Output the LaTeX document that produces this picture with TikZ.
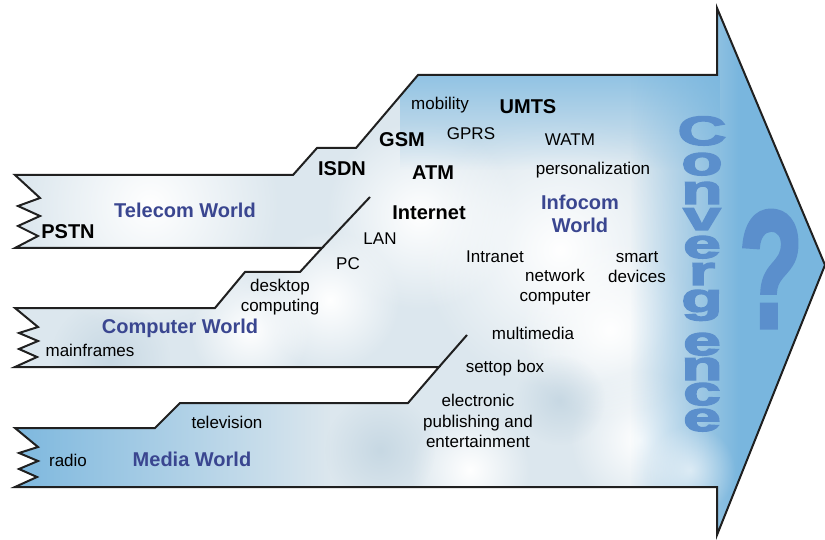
\documentclass[tikz,border=0pt]{standalone}
\usepackage{fontspec}
\usepackage{graphicx}
\setmainfont{Liberation Sans}
\newfontfamily\heavyfont[FakeBold=3]{Liberation Sans Bold}
\usetikzlibrary{fadings}
\definecolor{sky}{HTML}{79B6DE}
\definecolor{haze}{HTML}{DCE7EE}
\definecolor{mist}{HTML}{B9CEDC}
\definecolor{worldblue}{HTML}{3A4690}
\definecolor{convblue}{HTML}{5B8FCC}
\definecolor{edge}{HTML}{202020}

\tikzfading[name=fadeinright, left color=transparent!100, right color=transparent!0]
\tikzfading[name=fadeinleft, left color=transparent!0, right color=transparent!100]
\tikzfading[name=fadeindown, top color=transparent!0, bottom color=transparent!100]
\tikzfading[name=puff, inner color=transparent!0, outer color=transparent!100]

% outline of the three worlds running into one arrow
\newcommand*\worldhull{(15,175) -- (293,175) -- (317,148) -- (356,148) -- (418,75)
  -- (717,75) -- (717,8) -- (825,265) -- (717,535) -- (717,487)
  -- (15,487) -- (37,477) -- (19,469) -- (38,461) -- (19,453) -- (38,447) -- (15,428)
  -- (155,428) -- (180,403) -- (408,403) -- (439,367)
  -- (15,367) -- (37,357) -- (19,349) -- (38,341) -- (19,333) -- (38,327) -- (15,308)
  -- (215,308) -- (245,272) -- (300,272) -- (322,248)
  -- (15,248) -- (38,236) -- (18,226) -- (40,216) -- (18,206) -- (40,198) -- cycle}

\begin{document}
\begin{tikzpicture}[x=1pt, y=-1pt,
    term/.style={font=\fontsize{17}{20.5}\selectfont, align=center, inner sep=0pt},
    tech/.style={font=\fontsize{20}{23}\selectfont\bfseries, align=center, inner sep=0pt},
    world/.style={tech, text=worldblue},
    letter/.style={font=\heavyfont\fontsize{41}{41}\selectfont, text=convblue,
                   inner sep=0pt, anchor=base, text height=22pt, text depth=0pt},
    hull/.style={draw=edge, line width=2pt}]
    \useasboundingbox (0,0) rectangle (825,540);

    % Sky filling
    \begin{scope}
        \clip \worldhull;
        \fill[haze] (0,0) rectangle (825,540);
        \foreach \cx/\cy/\r in {150/205/130, 420/215/95, 560/250/140, 330/300/70,
                                250/330/60, 470/470/60, 640/440/70, 610/330/90}
            \fill[white, path fading=puff] (\cx,\cy) circle (\r);
        \foreach \cx/\cy/\r in {110/360/60, 380/450/55, 560/400/45}
            \fill[mist, opacity=0.6, path fading=puff] (\cx,\cy) circle (\r);
        \fill[sky!85, path fading=fadeindown] (400,70) rectangle (720,170);
        \fill[sky, path fading=fadeinright] (630,0) rectangle (740,540);
        \fill[sky] (740,0) rectangle (825,540);
        \fill[sky, path fading=fadeinleft] (0,400) rectangle (330,490);
        \fill[white, opacity=0.6, path fading=puff] (690,470) circle (45);
    \end{scope}

    % Outline and inner steps
    \draw[hull] \worldhull;
    \coordinate (lanend) at (370,197);
    \coordinate (mediaend) at (467,335);
    \draw[hull] (322,248) -- (lanend);
    \draw[hull] (439,367) -- (mediaend);

    % Telecom world
    \node[tech] (pstn) at (68,232) {PSTN};
    \node[world] (telecom) at (185,210) {Telecom World};
    \node[tech] (isdn) at (342,169) {ISDN};
    \node[tech] (gsm) at (402,140) {GSM};
    \node[tech] (atm) at (433,173) {ATM};
    \node[term] (mobility) at (440,105) {mobility};
    \node[tech] (umts) at (528,107) {UMTS};
    \node[term] (gprs) at (471,134) {GPRS};
    \node[term] (watm) at (570,140) {WATM};
    \node[term] (personal) at (593,170) {personalization};

    % Infocom world
    \node[world] (infocom) at (580,214) {Infocom\\World};
    \node[tech] (internet) at (429,213) {Internet};
    \node[term] (lan) at (380,239) {LAN};
    \node[term] (pc) at (348,264) {PC};
    \node[term] (intranet) at (495,257) {Intranet};
    \node[term] (netcomp) at (555,287) {network\\computer};
    \node[term] (smart) at (637,267) {smart\\devices};

    % Computer world
    \node[term] (desktop) at (280,297) {desktop\\computing};
    \node[world] (computer) at (180,328) {Computer World};
    \node[term] (mainframes) at (90,350) {mainframes};

    % Media world
    \node[term] (multimedia) at (533,333) {multimedia};
    \node[term] (settop) at (505,368) {settop box};
    \node[term] (publishing) at (478,421) {electronic\\publishing and\\entertainment};
    \node[term] (television) at (227,422) {television};
    \node[term] (radio) at (68,460) {radio};
    \node[world] (media) at (192,459) {Media World};

    % Convergence, one letter under the other
    \node[letter, text height=29pt] (conv0) at (702,145) {\scalebox{1.65}[1]{C}};
    \foreach \ch/\yb [count=\i] in {o/175, n/204, v/230, e/258, r/285,
                                    g/312, e/355, n/380, c/405, e/431}
        \node[letter] (conv\i) at (702,\yb) {\scalebox{1.65}[1]{\ch}};
    \node[letter, font=\heavyfont\fontsize{166}{166}\selectfont, text height=118pt]
        (query) at (771,327) {\scalebox{0.63}[1]{?}};
\end{tikzpicture}
\end{document}
